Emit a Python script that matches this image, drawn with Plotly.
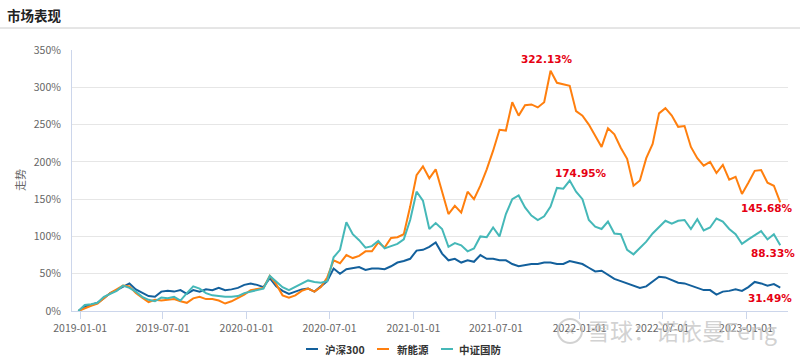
import pandas as pd
import plotly.graph_objects as go

dates = pd.date_range("2018-12-28", periods=111, freq="14D")

hs300 = [0, 6, 8, 11, 17, 24, 28, 33, 37, 29,
         24, 20, 19, 26, 27, 26, 28, 23, 28, 26,
         29, 28, 31, 28, 29, 31, 35, 37, 35, 32,
         44, 33, 27, 23, 26, 29, 30, 26, 33, 40,
         57, 50, 56, 57, 59, 55, 57, 57, 56, 60,
         65, 67, 70, 81, 82, 86, 92, 77, 68, 70,
         65, 68, 66, 75, 70, 70, 68, 68, 63, 60,
         62, 63, 63, 65, 65, 63, 63, 67, 65, 63,
         58, 53, 54, 48, 43, 40, 37, 34, 31, 33,
         39, 46, 45, 41, 38, 37, 34, 30, 28, 28,
         22, 26, 27, 29, 27, 32, 39, 37, 34, 36, 31.49]

xny = [0, 4, 7, 10, 17, 24, 29, 34, 33, 24,
       18, 12, 15, 14, 15, 16, 13, 11, 17, 19,
       16, 16, 14, 10, 13, 17, 22, 28, 30, 31,
       47, 36, 21, 18, 21, 27, 30, 26, 32, 45,
       68, 64, 75, 71, 74, 80, 80, 92, 85, 98,
       99, 103, 140, 182, 194, 178, 190, 160, 130, 141,
       132, 160, 150, 168, 190, 215, 243, 242, 280, 262,
       276, 277, 273, 280, 322.13, 306, 304, 302, 268, 262,
       250, 235, 220, 245, 237, 219, 204, 168, 175, 205,
       224, 265, 272, 262, 247, 248, 220, 205, 195, 200,
       185, 196, 176, 180, 157, 172, 188, 189, 172, 168, 145.68]

zzgf = [0, 8, 9, 11, 19, 23, 27, 34, 31, 26,
        19, 15, 13, 18, 17, 19, 14, 24, 33, 30,
        24, 21, 20, 19, 19, 20, 24, 26, 27, 30,
        47, 39, 32, 28, 32, 36, 41, 39, 38, 40,
        72, 82, 119, 103, 95, 85, 87, 94, 84, 87,
        90, 96, 122, 160, 148, 110, 118, 110, 86, 91,
        88, 80, 84, 100, 99, 112, 100, 130, 150, 155,
        139, 128, 122, 127, 140, 165, 164, 174.95, 160, 150,
        122, 113, 110, 120, 104, 103, 82, 76, 85, 93,
        104, 112, 121, 117, 121, 122, 110, 123, 108, 112,
        124, 120, 110, 103, 90, 96, 101, 107, 96, 103, 88.33]

names = ["沪深300", "新能源", "中证国防"]
colors = ["#13609c", "#ff7f0e", "#45b8b8"]
series = [hs300, xny, zzgf]

y_ticks = [0, 50, 100, 150, 200, 250, 300, 350]
y_ticktext = ["%d%%" % v for v in y_ticks]
x_range = [pd.Timestamp("2018-12-14"), pd.Timestamp("2023-04-03")]

# plot area in page pixels: x 72..788, y 50..311
def px(x):
    return (x - 72) / 716


def py(y):
    return (311 - y) / 261


fig = go.Figure()
for n, c, s in zip(names, colors, series):
    fig.add_trace(go.Scatter(x=dates, y=s, name=n, mode="lines",
                             line=dict(color=c, width=2), showlegend=False))

lab_font = dict(family="DejaVu Sans, Verdana", size=10.5, color="#e60012")


def xpaper(d):
    return (d - x_range[0]) / (x_range[1] - x_range[0])


labels = [
    (74, xny, "322.13%", -4, 12),
    (77, zzgf, "174.95%", 11, 8),
    (110, xny, "145.68%", -13, -6),
    (110, zzgf, "88.33%", -7, -8),
    (110, hs300, "31.49%", -10, -10),
]
for i, s, t, xs, ys in labels:
    fig.add_annotation(xref="paper", yref="y", x=xpaper(dates[i]), y=s[i],
                       xanchor="center", yanchor="middle",
                       text="<b>%s</b>" % t, showarrow=False,
                       xshift=xs, yshift=ys, font=lab_font)

# title
fig.add_annotation(xref="paper", yref="paper", x=px(5), y=py(15),
                   xanchor="left", yanchor="middle", showarrow=False,
                   text="<b>市场表现</b>",
                   font=dict(family="Noto Sans CJK SC", size=13.5, color="#222"))
fig.add_shape(type="line", xref="paper", yref="paper",
              x0=px(0), x1=px(800), y0=py(28), y1=py(28),
              line=dict(color="#cccccc", width=1))
# y title
fig.add_annotation(xref="paper", yref="paper", x=px(20), y=py(180),
                   xanchor="center", yanchor="middle",
                   showarrow=False, text="走势", textangle=-90,
                   font=dict(family="Noto Sans CJK SC", size=11, color="#666"))

# legend (drawn)
leg_lines = [306, 377, 441]
leg_texts = [323, 395, 457]
for n, c, lx, tx in zip(names, colors, leg_lines, leg_texts):
    fig.add_shape(type="line", xref="paper", yref="paper",
                  x0=px(lx), x1=px(lx + 12), y0=py(349), y1=py(349),
                  line=dict(color=c, width=2))
    fig.add_annotation(xref="paper", yref="paper", x=px(tx), y=py(349),
                       xanchor="left", yanchor="middle", showarrow=False,
                       text="<b>%s</b>" % n,
                       font=dict(family="Noto Sans CJK SC", size=10.5, color="#333"))

# watermark
wm = "rgba(195,195,195,0.75)"
fig.add_shape(type="circle", xref="paper", yref="paper",
              x0=px(558), x1=px(582), y0=py(343), y1=py(319),
              line=dict(color=wm, width=2))
fig.add_annotation(xref="paper", yref="paper", x=px(570), y=py(331),
                   xanchor="center", yanchor="middle",
                   showarrow=False, text="✕",
                   font=dict(family="DejaVu Sans", size=12, color=wm))
fig.add_annotation(xref="paper", yref="paper", x=px(682), y=py(330),
                   xanchor="center", yanchor="middle",
                   showarrow=False, text="雪球：诺依曼Feng",
                   font=dict(family="Noto Sans CJK SC", size=23, color=wm))

fig.update_layout(
    width=800, height=361,
    margin=dict(l=72, r=12, t=50, b=50, autoexpand=False),
    paper_bgcolor="white", plot_bgcolor="white",
    font=dict(family="Noto Sans CJK SC, Noto Sans", color="#666"),
    showlegend=False,
    xaxis=dict(range=x_range, type="date", automargin=False,
               tick0="2019-01-01", dtick="M6", tickformat="%Y-%m-%d",
               showgrid=False, showline=True, linecolor="#ccd6eb",
               ticks="outside", ticklen=7, tickcolor="#ccd6eb",
               tickfont=dict(size=10.5, color="#666"), zeroline=False),
    yaxis=dict(range=[0, 350], tickvals=y_ticks, ticktext=y_ticktext,
               automargin=False, showgrid=True, gridcolor="#e6e6e6",
               showline=True, linecolor="#ccd6eb", zeroline=False,
               ticks="", ticklabelstandoff=8,
               tickfont=dict(size=10.5, color="#666")),
)

fig.write_html("out.html",
               config={"displayModeBar": False},
               post_script="document.body.style.margin='0';"
                           "document.body.style.overflow='hidden';")
